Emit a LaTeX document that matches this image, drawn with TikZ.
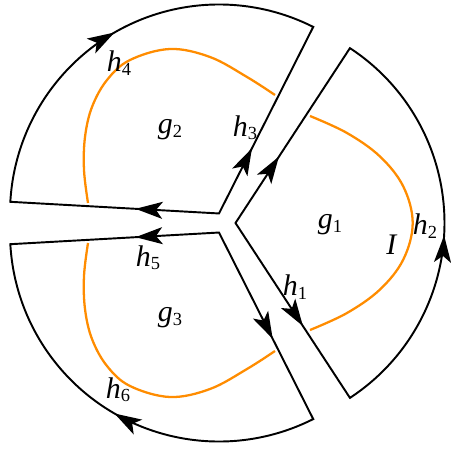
\documentclass[tikz,border=0pt]{standalone}
\usepackage{fontspec}
\setmainfont{Liberation Serif}
\usepackage{tikz}
\usetikzlibrary{
        arrows.meta,
        calc,
        decorations.markings
    }
\definecolor{curveorange}{RGB}{255,140,0}
\tikzset{x=0.02cm,y=0.02cm}
\tikzset{sector/.style={draw,line width=1.1pt,line join=miter}}
\tikzset{curve/.style={draw=curveorange,line width=1.3pt}}
\tikzset{arrow at/.style={line width=1.1pt,postaction={decorate},decoration={markings,mark=at position #1 with {\arrow{Stealth[length=5.4mm,width=3.4mm,inset=1.3mm]}}}}}
\newcommand{\lbl}[2]{\textit{#1}\raisebox{-0.25ex}{\fontsize{10.5}{12}\selectfont #2}}

\begin{document}
\begin{tikzpicture}[font=\fontsize{17}{20}\selectfont]
				\useasboundingbox (0,0) rectangle (450,-450);
				\coordinate (O) at (224.5,-223);
				\coordinate (A1) at ($(O)+(0:11)$);
				\coordinate (A2) at ($(O)+(120:11)$);
				\coordinate (A3) at ($(O)+(240:11)$);
				\coordinate (B1) at ($(A1)+(-56.8:209)$);
				\coordinate (C1) at ($(A1)+(56.8:209)$);
				\coordinate (B2) at ($(A2)+(63.2:209)$);
				\coordinate (C2) at ($(A2)+(176.8:209)$);
				\coordinate (B3) at ($(A3)+(183.2:209)$);
				\coordinate (C3) at ($(A3)+(296.8:209)$);
				\draw[sector] (A1) -- (B1) arc[start angle=-56.8,end angle=56.8,radius=209] -- cycle;
				\draw[sector] (A2) -- (B2) arc[start angle=63.2,end angle=176.8,radius=209] -- cycle;
				\draw[sector] (A3) -- (B3) arc[start angle=183.2,end angle=296.8,radius=209] -- cycle;
				\path[arrow at=0.38] (A1) -- (C1);
				\path[arrow at=0.59] (A1) -- (B1);
				\path[arrow at=0.47] (B1) arc[start angle=-56.8,end angle=56.8,radius=209];
				\path[arrow at=0.35] (A2) -- (B2);
				\path[arrow at=0.40] (A2) -- (C2);
				\path[arrow at=0.50] (C2) arc[start angle=176.8,end angle=63.2,radius=209];
				\path[arrow at=0.40] (A3) -- (B3);
				\path[arrow at=0.57] (A3) -- (C3);
				\path[arrow at=0.50] (C3) arc[start angle=296.8,end angle=183.2,radius=209];
				\draw[curve] plot[smooth,tension=0.6] coordinates {(310,-116) (347,-133) (380,-156.5) (403.3,-186.5) (412.7,-223) (403.3,-259.5) (380,-289.5) (347,-313) (310,-330)};
				\draw[curve] plot[smooth,tension=0.6] coordinates {(88,-203) (84,-170) (85,-137) (92,-107) (107,-80) (130,-60) (170,-49) (210,-57) (247,-77) (275,-95)};
				\draw[curve] plot[smooth,tension=0.6] coordinates {(88,-243) (84,-276) (85,-309) (92,-339) (107,-366) (130,-386) (170,-397) (210,-389) (247,-369) (275,-351)};
				\node (g1) at (330,-225) {\lbl{g}{1}};
				\node (g2) at (170,-130) {\lbl{g}{2}};
				\node (g3) at (170,-318) {\lbl{g}{3}};
				\node (h1) at (295,-287) {\lbl{h}{1}};
				\node (h2) at (425,-226) {\lbl{h}{2}};
				\node (h3) at (245,-128) {\lbl{h}{3}};
				\node (h4) at (119,-63) {\lbl{h}{4}};
				\node (h5) at (148,-258) {\lbl{h}{5}};
				\node (h6) at (118,-390) {\lbl{h}{6}};
				\node (I) at (392,-245) {\textit{I}};
			\end{tikzpicture}
\end{document}
